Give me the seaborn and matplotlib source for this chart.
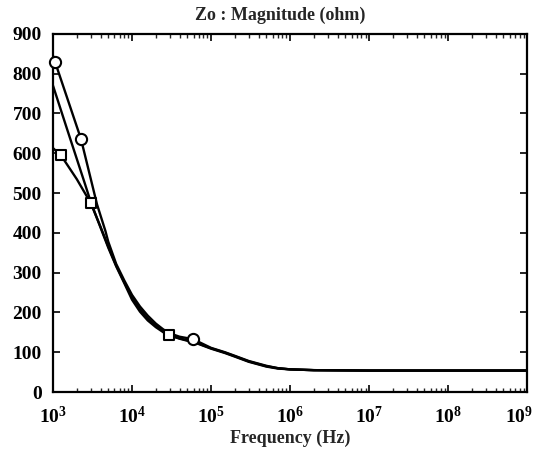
import numpy as np
import pandas as pd
import matplotlib
matplotlib.use('Agg')
import matplotlib.pyplot as plt
import matplotlib.transforms as mtransforms
import seaborn as sns
from matplotlib.ticker import LogLocator, NullFormatter

# values
freq_plain = [1e3, 1.5e3, 2e3, 2.5e3, 3e3, 4e3, 5e3, 6.3e3, 8e3, 1e4, 1.26e4, 1.58e4, 2e4, 2.5e4,
              3.16e4, 4e4, 5e4, 6.3e4, 1e5, 1.5e5, 2e5, 3e5, 5e5, 7e5, 1e6, 2e6, 1e7, 1e8, 1e9]
zo_plain = [770, 662, 586, 527, 478, 413, 363, 316, 273, 232, 202, 180, 163, 150,
            141, 134, 129, 124, 109, 98, 89, 76, 64, 59, 57, 55, 54, 54, 54]

freq_square = [1e3, 1.26e3, 2e3, 3e3, 4e3, 5e3, 6.3e3, 8e3, 1e4, 1.26e4, 1.58e4, 2e4, 2.5e4,
               2.9e4, 4e4, 5e4, 6.3e4, 1e5, 1.5e5, 2e5, 3e5, 5e5, 7e5, 1e6, 2e6, 1e7, 1e8, 1e9]
zo_square = [613, 595, 535, 475, 415, 366, 318, 276, 238, 208, 185, 167, 153,
             143, 135, 130, 125, 110, 99, 90, 77, 65, 60, 57, 55, 54, 54, 54]
square_marks_f = [1.26e3, 3e3, 2.9e4]
square_marks_z = [595, 475, 143]

freq_circle = [1e3, 1.06e3, 2.26e3, 3.6e3, 4.6e3, 5e3, 6.3e3, 8e3, 1e4, 1.26e4, 1.58e4, 2e4,
               2.5e4, 3.16e4, 4e4, 5.9e4, 1e5, 1.5e5, 2e5, 3e5, 5e5, 7e5, 1e6, 2e6, 1e7, 1e8, 1e9]
zo_circle = [845, 830, 636, 472, 405, 378, 322, 280, 244, 215, 192, 172,
             157, 146, 139, 133, 111, 100, 91, 78, 66, 60, 57, 55, 54, 54, 54]
circle_marks_f = [1.06e3, 2.26e3, 5.9e4]
circle_marks_z = [830, 636, 133]

y_ticks = [0, 100, 200, 300, 400, 500, 600, 700, 800, 900]
x_decades = [3, 4, 5, 6, 7, 8, 9]

sns.set_style('ticks')
plt.rcParams['font.family'] = ['Liberation Serif', 'DejaVu Serif']
plt.rcParams['font.weight'] = 'bold'
plt.rcParams['mathtext.fontset'] = 'custom'
plt.rcParams['mathtext.rm'] = 'Liberation Serif:bold'
plt.rcParams['mathtext.default'] = 'rm'

fig = plt.figure(figsize=(5.38, 4.58), dpi=100)
ax = fig.add_axes([0.0985, 0.144, 0.8815, 0.782])

lw = 1.7
sns.lineplot(x=freq_plain, y=zo_plain, color='black', linewidth=lw, sort=False, ax=ax)
sns.lineplot(x=freq_square, y=zo_square, color='black', linewidth=lw, sort=False, ax=ax)
sns.lineplot(x=freq_circle, y=zo_circle, color='black', linewidth=lw, sort=False, ax=ax)
sns.scatterplot(x=square_marks_f, y=square_marks_z, marker='s', s=60, facecolor='white',
                edgecolor='black', linewidth=1.5, ax=ax, zorder=5, clip_on=False)
sns.scatterplot(x=circle_marks_f, y=circle_marks_z, marker='o', s=65, facecolor='white',
                edgecolor='black', linewidth=1.5, ax=ax, zorder=5, clip_on=False)

ax.set_xscale('log')
ax.set_xlim(1e3, 1e9)
ax.set_ylim(0, 900)
ax.set_yticks(y_ticks)
ax.set_xticks([10.0 ** d for d in x_decades])
ax.set_xticklabels([f'$10^{{{d}}}$' for d in x_decades])
ax.xaxis.set_minor_locator(LogLocator(base=10, subs=np.arange(2, 10), numticks=20))
ax.xaxis.set_minor_formatter(NullFormatter())

ax.tick_params(axis='both', which='major', direction='in', length=5, width=1.2,
               top=True, right=True, labelsize=14, colors='black')
ax.tick_params(axis='y', which='major', pad=8)
ax.tick_params(axis='x', which='minor', direction='in', length=3, width=1, top=True)
ax.tick_params(axis='x', which='major', pad=10, labelsize=14)
for spine in ax.spines.values():
    spine.set_linewidth(1.6)
    spine.set_color('black')

# last decade label sits a little left of its tick, as in the reference
last = ax.get_xticklabels()[-1]
last.set_transform(last.get_transform() + mtransforms.ScaledTranslation(-8 / 100, 0, fig.dpi_scale_trans))

ax.set_title('Zo : Magnitude (ohm)', fontsize=13, fontweight='bold', pad=10, x=0.48)
ax.set_xlabel('Frequency (Hz)', fontsize=13, fontweight='bold', labelpad=2)
ax.set_ylabel('')

fig.savefig('out.png', dpi=100)
